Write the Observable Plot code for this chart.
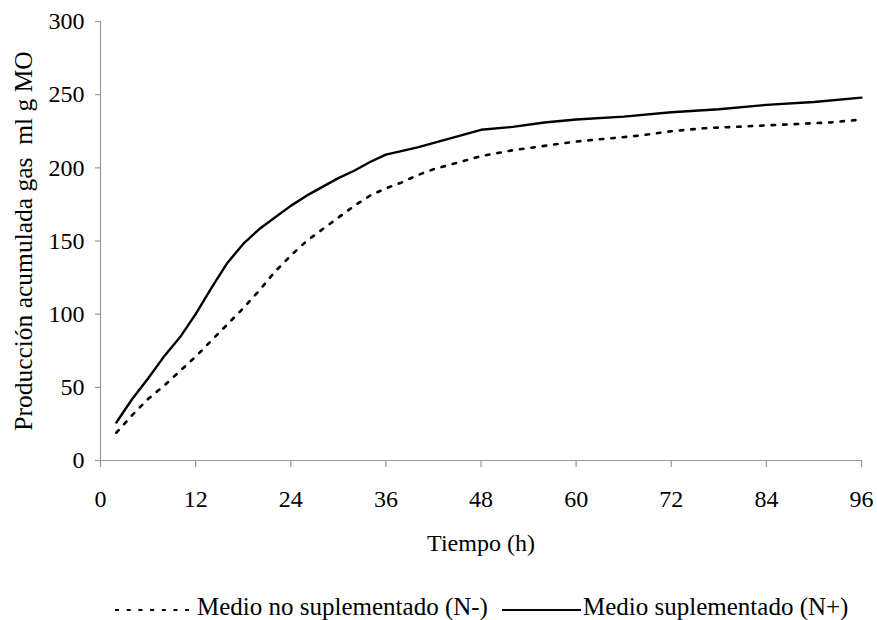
<!DOCTYPE html>
<html>
<head>
<meta charset="utf-8">
<script src="https://cdn.jsdelivr.net/npm/d3@7"></script>
<script src="https://cdn.jsdelivr.net/npm/@observablehq/plot@0.6"></script>
<style>
  html, body { margin: 0; padding: 0; background: #fff; }
  #wrap { position: relative; width: 877px; height: 620px; font-family: "Liberation Serif", "Times New Roman", serif; }
  #chart svg, #chart svg text { font-family: "Liberation Serif", "Times New Roman", serif !important; font-variant-numeric: normal !important; }
  #legend { position: absolute; left: 0; top: 594px; width: 877px; height: 26px; font-size: 25px; color: #000; }
  #legend .item { position: absolute; top: 0; white-space: nowrap; line-height: 26px; }
  #legend svg { position: absolute; top: 0; }
</style>
</head>
<body>
<div id="wrap"><div id="chart"></div><div id="legend"></div></div>
<script>
// Time (h)
const timeNminus = [2,4,6,8,10,12,14,16,18,20,22,24,26,28,30,32,34,36,38,40,42,44,46,48,52,56,60,64,68,72,76,80,84,88,92,96];
// Medio no suplementado (N-)
const gasNminus = [19,31,42,51,61,71,82,93,104,116,129,140,150,158,166,174,181,186,190,195,199,202,205,208,212,215,218,220,222,225,227,228,229,230,231,233];
const timeNplus = [2,4,6,8,10,12,14,16,18,20,22,24,26,28,30,32,34,36,40,44,48,52,56,60,66,72,78,84,90,96];
// Medio suplementado (N+)
const gasNplus = [26,42,56,71,84,100,118,135,148,158,166,174,181,187,193,198,204,209,214,220,226,228,231,233,235,238,240,243,245,248];

const xTicks = [0,12,24,36,48,60,72,84,96];
const yTicks = [0,50,100,150,200,250,300];
const seriesNames = ["Medio no suplementado (N-)", "Medio suplementado (N+)"];
const xLabel = "Tiempo (h)";
const yLabel = "Producción acumulada gas\u00a0\u00a0ml g MO";

const dataMinus = timeNminus.map((t, i) => ({t, v: gasNminus[i]}));
const dataPlus = timeNplus.map((t, i) => ({t, v: gasNplus[i]}));

const axisGray = "#9a9a9a";
const font = '"Liberation Serif", "Times New Roman", serif';

const chart = Plot.plot({
  width: 877,
  height: 594,
  marginLeft: 100,
  marginRight: 16,
  marginTop: 21,
  marginBottom: 134,
  style: { fontFamily: font, fontSize: "24px", background: "#fff", color: "#000" },
  x: { domain: [0, 96], ticks: xTicks, label: null },
  y: { domain: [0, 300], ticks: yTicks, label: null },
  marks: [
    Plot.ruleY([0], { stroke: axisGray, strokeWidth: 1.2 }),
    Plot.ruleX([0], { stroke: axisGray, strokeWidth: 1.2 }),
    Plot.axisX({ ticks: xTicks, text: null, label: null, tickSize: 7, stroke: axisGray, strokeWidth: 1.2 }),
    Plot.axisX({ ticks: xTicks, tickSize: 0, tickPadding: 29, fontSize: 24, label: null, fill: "#000", fontFamily: font }),
    Plot.axisY({ ticks: yTicks, text: null, label: null, tickSize: 5, stroke: axisGray, strokeWidth: 1.2 }),
    Plot.axisY({ ticks: yTicks, tickSize: 0, tickPadding: 16, fontSize: 24, label: null, fill: "#000", fontFamily: font }),
    Plot.line(dataMinus, { x: "t", y: "v", stroke: "#000", strokeWidth: 2.6, strokeDasharray: "3.5,8" }),
    Plot.line(dataPlus, { x: "t", y: "v", stroke: "#000", strokeWidth: 2.4 }),
    Plot.text([xLabel], { text: d => d, frameAnchor: "bottom", dy: 83, fontSize: 24, fill: "#000", lineAnchor: "middle", textAnchor: "middle", fontFamily: font }),
    Plot.text([yLabel], { text: d => d, frameAnchor: "left", dx: -77, rotate: -90, fontSize: 25.5, fill: "#000", lineAnchor: "middle", textAnchor: "middle", fontFamily: font })
  ]
});
document.getElementById("chart").appendChild(chart);

// Legend (HTML below the SVG)
const legend = document.getElementById("legend");
const items = [
  { name: seriesNames[0], dash: "4,7.7", lineLeft: 115, lineW: 74, textLeft: 197 },
  { name: seriesNames[1], dash: null, lineLeft: 502, lineW: 79, textLeft: 583 }
];
for (const it of items) {
  const svg = d3.create("svg").attr("width", it.lineW).attr("height", 26)
    .style("left", it.lineLeft + "px");
  svg.append("line").attr("x1", 0).attr("x2", it.lineW).attr("y1", 16).attr("y2", 16)
    .attr("stroke", "#000").attr("stroke-width", it.dash ? 2.2 : 2)
    .attr("stroke-dasharray", it.dash);
  legend.appendChild(svg.node());
  const span = document.createElement("span");
  span.className = "item";
  span.style.left = it.textLeft + "px";
  span.textContent = it.name;
  legend.appendChild(span);
}
</script>
</body>
</html>
